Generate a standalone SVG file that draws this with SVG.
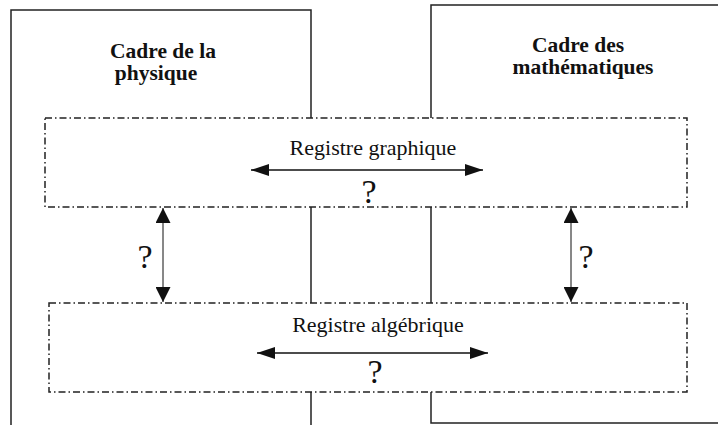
<svg xmlns="http://www.w3.org/2000/svg" width="718" height="425" viewBox="0 0 718 425">
<style>
.frame{fill:none;stroke:#222;stroke-width:1.5}
.reg{fill:#fff;stroke:#222;stroke-width:1.5;stroke-dasharray:7 3 1.5 3}
.title{font-family:"Liberation Serif","Times New Roman",serif;font-weight:bold;font-size:21.5px;fill:#111;text-anchor:middle}
.lbl{font-family:"Liberation Serif","Times New Roman",serif;font-size:22px;fill:#111;text-anchor:middle}
.q{font-family:"Liberation Serif","Times New Roman",serif;font-size:34px;fill:#111;text-anchor:middle}
.h{stroke:#111;stroke-width:1.6;fill:none}
.v{stroke:#111;stroke-width:1;fill:none}
</style>
<defs>
<marker id="ah" viewBox="0 0 18 12" refX="18" refY="6" markerWidth="18" markerHeight="12" markerUnits="userSpaceOnUse" orient="auto-start-reverse">
<path d="M0,0 L18,6 L0,12 Z" fill="#111"/>
</marker>
<marker id="av" viewBox="0 0 15 15" refX="15" refY="7.5" markerWidth="15" markerHeight="15" markerUnits="userSpaceOnUse" orient="auto-start-reverse">
<path d="M0,0 L15,7.5 L0,15 Z" fill="#111"/>
</marker>
</defs>
<rect width="718" height="425" fill="#fff"/>
<g id="cadre-physique">
<path class="frame" d="M11,430 V10 H311 V430"/>
<text class="title" x="163" y="58">Cadre de la</text>
<text class="title" x="156" y="80">physique</text>
</g>
<g id="cadre-maths">
<path class="frame" d="M722,5 H431 V423 H722"/>
<text class="title" x="578" y="52">Cadre des</text>
<text class="title" x="583" y="74">mathématiques</text>
</g>
<g id="registre-graphique">
<rect class="reg" x="45" y="118" width="642" height="89"/>
<text class="lbl" x="373" y="155">Registre graphique</text>
</g>
<g id="registre-algebrique">
<rect class="reg" x="49" y="303" width="638" height="89"/>
<text class="lbl" x="378" y="332">Registre algébrique</text>
</g>
<g id="connectors">
<line class="h" x1="251" y1="170" x2="483" y2="170" marker-start="url(#ah)" marker-end="url(#ah)"/>
<text class="q" x="369" y="203">?</text>
<line class="h" x1="257" y1="353" x2="488" y2="353" marker-start="url(#ah)" marker-end="url(#ah)"/>
<text class="q" x="375" y="383">?</text>
<line class="v" x1="163" y1="208" x2="163" y2="302" marker-start="url(#av)" marker-end="url(#av)"/>
<text class="q" x="145" y="268">?</text>
<line class="v" x1="571" y1="208" x2="571" y2="302" marker-start="url(#av)" marker-end="url(#av)"/>
<text class="q" x="586" y="268">?</text>
</g>
</svg>
